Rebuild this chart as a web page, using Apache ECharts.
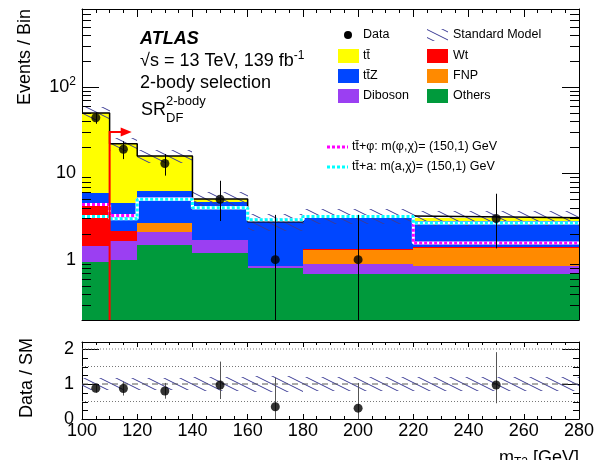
<!DOCTYPE html>
<html>
<head>
<meta charset="utf-8">
<script src="https://cdn.jsdelivr.net/npm/echarts@6.0.0/dist/echarts.min.js"></script>
<style>
html,body{margin:0;padding:0;background:#fff;}
#chart{width:605px;height:460px;}
</style>
</head>
<body>
<div id="chart"></div>
<script>
// ---------------- data ----------------
const binEdges = [100, 110, 120, 140, 160, 180, 220, 280];
const others   = [0.95, 0.99, 1.47, 1.20, 0.79, 0.69, 0.69];
const diboson  = [0.49, 0.67, 0.62, 0.51, 0.05, 0.20, 0.15];
const fnp      = [0.00, 0.00, 0.59, 0.00, 0.00, 0.40, 0.54];
const wt       = [3.02, 0.47, 0.00, 0.00, 0.00, 0.03, 0.03];
const ttz      = [1.39, 2.36, 3.61, 2.99, 1.88, 1.85, 1.43];
const ttbar    = [44.1, 17.5, 9.6, 0.35, 0.03, 0.04, 0.21];
const smUncert = [0.17, 0.17, 0.18, 0.20, 0.22, 0.20, 0.20];
const dataX    = [105, 115, 130, 150, 170, 200, 250];
const dataY    = [44, 19, 13, 5, 1, 1, 3];
const dataLo   = [37.5, 14.6, 9.4, 2.8, 0.2, 0.2, 1.35];
const dataHi   = [50.8, 23.5, 16.7, 8.2, 3.3, 3.3, 5.8];
const sigPhi   = [4.34, 3.25, 5.05, 4.0, 2.9, 3.16, 1.56];
const sigA     = [3.16, 2.97, 5.0, 4.0, 2.9, 3.16, 2.65];
const ratioY   = [0.88, 0.87, 0.80, 0.97, 0.35, 0.31, 0.97];
const ratioLo  = [0.75, 0.67, 0.58, 0.57, 0.0, 0.0, 0.45];
const ratioHi  = [1.01, 1.07, 1.03, 1.64, 1.18, 1.03, 1.91];
const ratioRefDotted = [0.5, 1.5, 2];
const ratioRefDashed = [1];
const cutLine  = [110, 30, 118];   // cut position, arrow height, arrow tip
const xTicks   = [100, 120, 140, 160, 180, 200, 220, 240, 260, 280];
const yLogLabels = {1: '1', 10: '10', 100: '{a|10}{s|2}'};
const ratioLabels = {0: '0', 1: '1', 2: '2'};

const YMIN = 0.2, YMAX = 800;
const FONT = 'Liberation Sans';
const COL = {others:'#009a3c', diboson:'#9b3ff2', fnp:'#ff8a00', wt:'#ff0000', ttz:'#0046ff', ttbar:'#ffff00'};

// hatch pattern
function makeHatch(){
  const c = document.createElement('canvas'); c.width = 16; c.height = 8;
  const g = c.getContext('2d');
  g.strokeStyle = 'rgba(60,60,150,1)'; g.lineWidth = 1;
  for (const m of [-1, 0, 1]) { g.beginPath(); g.moveTo(16*m - 16, -8); g.lineTo(16*m + 32, 16); g.stroke(); }
  return c;
}
const hatch = {image: makeHatch(), repeat: 'repeat'};

function rectRender(fill){
  return function(params, api){
    const a = api.coord([api.value(0), api.value(3)]);
    const b = api.coord([api.value(1), api.value(2)]);
    const x0 = Math.round(a[0]), x1 = Math.round(b[0]), y0 = Math.round(a[1]), y1 = Math.round(b[1]);
    return {type:'rect', shape:{x:x0, y:y0, width:x1-x0, height:y1-y0}, style:{fill:fill}};
  };
}
function stepPts(vals){
  const p = [];
  vals.forEach((v,i)=>{ p.push([binEdges[i], v]); p.push([binEdges[i+1], v]); });
  return p;
}

const series = [];
// stacked backgrounds
const comps = [['Others', others, COL.others], ['Diboson', diboson, COL.diboson], ['FNP', fnp, COL.fnp],
               ['Wt', wt, COL.wt], ['ttZ', ttz, COL.ttz], ['ttbar', ttbar, COL.ttbar]];
const cum = binEdges.slice(0, -1).map(()=>0);
comps.forEach(([name, arr, color])=>{
  const d = [];
  arr.forEach((v,i)=>{
    const lo = cum[i], hi = cum[i] + v; cum[i] = hi;
    if (v > 0) d.push([binEdges[i], binEdges[i+1], Math.max(lo, YMIN), hi]);
  });
  series.push({type:'custom', name, xAxisIndex:0, yAxisIndex:0, z:1, silent:true,
    encode:{x:[0,1], y:[2,3]}, data:d, renderItem:rectRender(color)});
});
const totals = cum.slice();

// SM uncertainty band (top)
series.push({type:'custom', xAxisIndex:0, yAxisIndex:0, z:2, silent:true, encode:{x:[0,1], y:[2,3]},
  data: totals.map((t,i)=>[binEdges[i], binEdges[i+1], t*(1-smUncert[i]), t*(1+smUncert[i])]),
  renderItem: rectRender(hatch)});
// SM total outline
series.push({type:'line', xAxisIndex:0, yAxisIndex:0, z:3, silent:true, symbol:'none',
  data: stepPts(totals), lineStyle:{color:'#000', width:1.5}});
// signals
[[sigPhi, '#ff00ff'], [sigA, '#00ffff']].forEach(([vals, c], k)=>{
  series.push({type:'line', xAxisIndex:0, yAxisIndex:0, z:4+k*0.1, silent:true, symbol:'none',
    data: stepPts(vals), lineStyle:{color:'#fff', width:3}});
  series.push({type:'line', xAxisIndex:0, yAxisIndex:0, z:4.05+k*0.1, silent:true, symbol:'none',
    data: stepPts(vals), lineStyle:{color:c, width:3, type:[3,2], cap:'butt'}});
});
// cut arrow
series.push({type:'custom', xAxisIndex:0, yAxisIndex:0, z:5, silent:true, encode:{x:[0,2], y:[1]},
  data:[[cutLine[0], cutLine[1], cutLine[2]]],
  renderItem:(params, api)=>{
    const top = api.coord([api.value(0), api.value(1)]);
    const bot = api.coord([api.value(0), YMIN]);
    const tip = api.coord([api.value(2), api.value(1)]);
    return {type:'group', children:[
      {type:'polyline', shape:{points:[[top[0], bot[1]], [top[0], top[1]], [tip[0]-10, top[1]]]},
        style:{stroke:'#ff0000', lineWidth:2, fill:null}},
      {type:'polygon', shape:{points:[[tip[0]-11, top[1]-4.5], [tip[0], top[1]], [tip[0]-11, top[1]+4.5]]},
        style:{fill:'#ff0000'}}
    ]};
  }});
// data error bars
function errRender(color){
  return function(params, api){
    const a = api.coord([api.value(0), api.value(1)]);
    const b = api.coord([api.value(0), api.value(2)]);
    const x = Math.round(a[0]) + 0.5;
    return {type:'line', shape:{x1:x, y1:a[1], x2:x, y2:b[1]}, style:{stroke:color, lineWidth:1}};
  };
}
series.push({type:'custom', xAxisIndex:0, yAxisIndex:0, z:6, silent:true, encode:{x:0, y:[1,2]},
  data: dataX.map((x,i)=>[x, Math.max(dataLo[i], YMIN), dataHi[i]]), renderItem: errRender('#000')});
series.push({type:'scatter', xAxisIndex:0, yAxisIndex:0, z:7, silent:true, symbolSize:9,
  itemStyle:{color:'#000'}, data: dataX.map((x,i)=>[x, dataY[i]])});

// log minor ticks (left & right)
const logMinor = [];
for (let k = -1; k <= 2; k++) for (let m = 2; m <= 9; m++) { const v = m*Math.pow(10,k); if (v > YMIN && v < YMAX) logMinor.push(v); }
function yTickRender(len){
  return function(params, api){
    const p = api.coord([api.value(0), api.value(1)]);
    const cs = params.coordSys; const y = Math.round(p[1]) + 0.5;
    return {type:'group', children:[
      {type:'line', shape:{x1:cs.x, y1:y, x2:cs.x+len, y2:y}, style:{stroke:'#000', lineWidth:1}},
      {type:'line', shape:{x1:cs.x+cs.width-len, y1:y, x2:cs.x+cs.width, y2:y}, style:{stroke:'#000', lineWidth:1}}
    ]};
  };
}
series.push({type:'custom', xAxisIndex:0, yAxisIndex:0, z:8, silent:true, encode:{x:0, y:1},
  data: logMinor.map(v=>[100, v]), renderItem: yTickRender(9)});

// ratio panel
series.push({type:'custom', xAxisIndex:2, yAxisIndex:2, z:2, silent:true, encode:{x:[0,1], y:[2,3]},
  data: smUncert.map((u,i)=>[binEdges[i], binEdges[i+1], 1-u, 1+u]), renderItem: rectRender(hatch)});
ratioRefDotted.forEach(v=>{
  series.push({type:'line', xAxisIndex:2, yAxisIndex:2, z:1, silent:true, symbol:'none',
    data:[[binEdges[0], v], [binEdges[binEdges.length-1], v]], lineStyle:{color:'#777', width:1, type:[1,2]}});
});
ratioRefDashed.forEach(v=>{
  series.push({type:'line', xAxisIndex:2, yAxisIndex:2, z:3, silent:true, symbol:'none',
    data:[[binEdges[0], v], [binEdges[binEdges.length-1], v]], lineStyle:{color:'#555', width:1, type:[6,4]}});
});
series.push({type:'custom', xAxisIndex:2, yAxisIndex:2, z:6, silent:true, encode:{x:0, y:[1,2]},
  data: dataX.map((x,i)=>[x, ratioLo[i], ratioHi[i]]), renderItem: errRender('#555')});
series.push({type:'scatter', xAxisIndex:2, yAxisIndex:2, z:7, silent:true, symbolSize:9,
  itemStyle:{color:'#000'}, data: dataX.map((x,i)=>[x, ratioY[i]])});
const ratioMinor = [0.25, 0.5, 0.75, 1.25, 1.5, 1.75];
series.push({type:'custom', xAxisIndex:2, yAxisIndex:2, z:8, silent:true, encode:{x:0, y:1},
  data: ratioMinor.map(v=>[100, v]), renderItem: yTickRender(6)});

// ---------------- axes ----------------
const lineBlack = {color:'#000', width:1};
function xAx(grid, pos, showLabel, major, minor){
  return {gridIndex:grid, type:'value', min:xTicks[0], max:xTicks[xTicks.length-1], interval:xTicks[1]-xTicks[0], position:pos,
    axisLine:{show:true, onZero:false, lineStyle:lineBlack},
    axisTick:{show:true, inside:true, length:major, lineStyle:lineBlack},
    minorTick:{show:true, splitNumber:4, length:minor, lineStyle:lineBlack},
    splitLine:{show:false},
    axisLabel:{show:showLabel, fontFamily:FONT, fontSize:18, color:'#000', margin:3}};
}
function yLog(pos, showLabel){
  return {gridIndex:0, type:'log', logBase:10, min:YMIN, max:YMAX, position:pos,
    axisLine:{show:true, onZero:false, lineStyle:lineBlack},
    axisTick:{show:true, inside:true, length:17, lineStyle:lineBlack},
    splitLine:{show:false}, minorTick:{show:false},
    axisLabel:{show:showLabel, margin:6, color:'#000', fontFamily:FONT, fontSize:18,
      formatter:(v)=>{ for (const k in yLogLabels) { if (Math.abs(v - Number(k)) < 1e-6*Number(k)) return yLogLabels[k]; } return ''; },
      rich:{a:{fontFamily:FONT, fontSize:18, color:'#000', lineHeight:22},
            s:{fontFamily:FONT, fontSize:12, color:'#000', verticalAlign:'top', lineHeight:14}}}};
}
function yRatio(pos, showLabel){
  return {gridIndex:1, type:'value', min:0, max:2.2, interval:1, position:pos,
    axisLine:{show:true, onZero:false, lineStyle:lineBlack},
    axisTick:{show:true, inside:true, length:17, lineStyle:lineBlack},
    splitLine:{show:false}, minorTick:{show:false},
    axisLabel:{show:showLabel, margin:8, color:'#000', fontFamily:FONT, fontSize:18,
      formatter:(v)=> (ratioLabels[Math.round(v*1000)/1000] !== undefined ? ratioLabels[Math.round(v*1000)/1000] : '')}};
}

// ---------------- texts & legend ----------------
const T = (x, y, text, size, extra) => Object.assign({type:'text', x, y, silent:true, z:100,
  style:Object.assign({text, fontFamily:FONT, fontSize:size, fill:'#000', align:'left', verticalAlign:'middle'}, extra||{})});
const legY = [35, 56, 76, 96];
const LS = 12.5;
const graphic = [
  T(140, 39, 'ATLAS', 18, {fontWeight:'bold', fontStyle:'italic'}),
  {type:'text', x:140, y:61, silent:true, z:100, style:{text:'{a|√s = 13 TeV, 139 fb}{b|-1}', align:'left', verticalAlign:'middle',
     rich:{a:{fontFamily:FONT, fontSize:18, fill:'#000', lineHeight:22}, b:{fontFamily:FONT, fontSize:12, fill:'#000', verticalAlign:'top', lineHeight:14}}}},
  T(140, 83, '2-body selection', 18),
  T(141, 110, 'SR', 18),
  T(166, 101, '2-body', 13),
  T(166, 118, 'DF', 13),
  // axis titles
  T(25, 57, 'Events / Bin', 18, {align:'center'}),
  T(27, 378, 'Data / SM', 18, {align:'center'}),
  {type:'text', x:579, y:458, silent:true, z:100, style:{text:'{a|m}{b|T2}{a| [GeV]}', align:'right', verticalAlign:'middle',
     rich:{a:{fontFamily:FONT, fontSize:18, fill:'#000', lineHeight:22}, b:{fontFamily:FONT, fontSize:12, fill:'#000', verticalAlign:'bottom', lineHeight:14}}}},
  // legend
  {type:'circle', shape:{cx:348, cy:legY[0], r:4}, style:{fill:'#000'}, silent:true, z:100},
  T(363, legY[0], 'Data', LS),
  {type:'rect', shape:{x:427, y:legY[0]-6, width:21, height:12}, style:{fill:hatch}, silent:true, z:100},
  T(453, legY[0], 'Standard Model', LS),
  {type:'rect', shape:{x:338, y:legY[1]-7, width:21, height:14}, style:{fill:COL.ttbar}, silent:true, z:100},
  T(363, legY[1], 'tt\u0304', LS),
  {type:'rect', shape:{x:427, y:legY[1]-7, width:21, height:14}, style:{fill:COL.wt}, silent:true, z:100},
  T(453, legY[1], 'Wt', LS),
  {type:'rect', shape:{x:338, y:legY[2]-7, width:21, height:14}, style:{fill:COL.ttz}, silent:true, z:100},
  T(363, legY[2], 'tt\u0304Z', LS),
  {type:'rect', shape:{x:427, y:legY[2]-7, width:21, height:14}, style:{fill:COL.fnp}, silent:true, z:100},
  T(453, legY[2], 'FNP', LS),
  {type:'rect', shape:{x:338, y:legY[3]-7, width:21, height:14}, style:{fill:COL.diboson}, silent:true, z:100},
  T(363, legY[3], 'Diboson', LS),
  {type:'rect', shape:{x:427, y:legY[3]-7, width:21, height:14}, style:{fill:COL.others}, silent:true, z:100},
  T(453, legY[3], 'Others', LS),
  {type:'line', shape:{x1:327, y1:147, x2:348, y2:147}, style:{stroke:'#ff00ff', lineWidth:3, lineDash:[3,2]}, silent:true, z:100},
  T(352, 147, 'tt\u0304+\u03c6: m(\u03c6,\u03c7)= (150,1) GeV', LS),
  {type:'line', shape:{x1:327, y1:167, x2:348, y2:167}, style:{stroke:'#00ffff', lineWidth:3, lineDash:[3,2]}, silent:true, z:100},
  T(352, 167, 'tt\u0304+a: m(a,\u03c7)= (150,1) GeV', LS)
];
graphic[6].rotation = Math.PI/2;
graphic[7].rotation = Math.PI/2;

const option = {
  animation:false,
  backgroundColor:'#fff',
  grid:[{left:82, top:9, width:497, height:311}, {left:82, top:342, width:497, height:77}],
  xAxis:[xAx(0,'bottom',false,8,4), xAx(0,'top',false,8,4), xAx(1,'bottom',true,5,3), xAx(1,'top',false,5,3)],
  yAxis:[yLog('left', true), yLog('right', false), yRatio('left', true), yRatio('right', false)],
  series,
  graphic
};
const chart = echarts.init(document.getElementById('chart'), null, {renderer:'canvas'});
chart.setOption(option);
</script>
</body>
</html>
